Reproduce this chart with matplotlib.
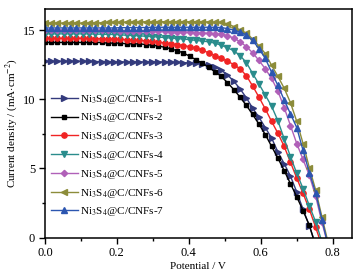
import matplotlib
matplotlib.use("Agg")
import matplotlib.pyplot as plt
from matplotlib.ticker import MultipleLocator

plt.rcParams['font.family'] = ['Liberation Serif', 'DejaVu Serif']
plt.rcParams['mathtext.fontset'] = 'stix'

# potential grid (V)
V = [0.0, 0.0175, 0.035, 0.0525, 0.07, 0.0875, 0.105, 0.1225, 0.14, 0.1575,
     0.175, 0.1925, 0.21, 0.2275, 0.245, 0.2625, 0.28, 0.2975, 0.315, 0.3325,
     0.35, 0.3675, 0.385, 0.4025, 0.42, 0.4375, 0.455, 0.4725, 0.49, 0.5075,
     0.525, 0.5425, 0.56, 0.5775, 0.595, 0.6125, 0.63, 0.6475, 0.665, 0.6825,
     0.70, 0.7175, 0.735, 0.7525, 0.77, 0.7875]

# current density (mA/cm2) for each sample
j1 = [12.75, 12.75, 12.75, 12.75, 12.75, 12.75, 12.75, 12.75, 12.72, 12.72,
      12.72, 12.7, 12.7, 12.7, 12.7, 12.7, 12.7, 12.7, 12.7, 12.7,
      12.68, 12.68, 12.65, 12.62, 12.6, 12.55, 12.48, 12.35, 12.1, 11.75,
      11.3, 10.75, 10.1, 9.35, 8.7, 7.95, 7.2, 6.2, 5.35, 4.45,
      3.3, 2.05, 0.85, -0.5]
j2 = [14.1, 14.1, 14.1, 14.1, 14.1, 14.1, 14.1, 14.1, 14.1, 14.1,
      14.05, 14.05, 14.05, 14.0, 14.0, 14.0, 13.95, 13.9, 13.85, 13.75,
      13.65, 13.5, 13.35, 13.1, 12.85, 12.6, 12.3, 12.0, 11.65, 11.2,
      10.7, 10.15, 9.55, 8.9, 8.2, 7.45, 6.6, 5.75, 4.85, 3.9,
      2.95, 1.95, 0.9, -0.6]
j3 = [14.4, 14.4, 14.4, 14.4, 14.4, 14.4, 14.4, 14.4, 14.38, 14.38,
      14.35, 14.35, 14.33, 14.3, 14.28, 14.25, 14.22, 14.18, 14.12, 14.07,
      14.0, 13.95, 13.88, 13.8, 13.7, 13.55, 13.35, 13.15, 12.95, 12.75,
      12.5, 12.2, 11.7, 10.95, 10.15, 9.3, 8.4, 7.55, 6.6, 5.45,
      4.3, 3.2, 2.05, 0.75, -0.6]
j4 = [14.72, 14.72, 14.72, 14.72, 14.72, 14.72, 14.72, 14.72, 14.7, 14.7,
      14.68, 14.68, 14.65, 14.62, 14.6, 14.58, 14.55, 14.52, 14.5, 14.45,
      14.42, 14.38, 14.35, 14.3, 14.25, 14.2, 14.15, 14.05, 13.9, 13.72,
      13.5, 13.15, 12.65, 11.85, 11.1, 10.3, 9.5, 8.45, 7.15, 5.85,
      4.65, 3.55, 2.3, 1.15, -0.3]
j5 = [15.0, 15.0, 15.0, 15.0, 15.0, 15.0, 15.0, 15.0, 14.98, 14.98,
      14.97, 14.97, 14.96, 14.95, 14.95, 14.95, 14.93, 14.92, 14.9, 14.9,
      14.88, 14.87, 14.85, 14.83, 14.8, 14.78, 14.75, 14.72, 14.68, 14.6,
      14.42, 14.15, 13.8, 13.35, 12.8, 12.2, 11.5, 10.6, 9.4, 8.1,
      6.8, 5.65, 4.5, 3.0, 1.1, -0.6]
j6 = [15.5, 15.5, 15.5, 15.5, 15.5, 15.5, 15.5, 15.5, 15.52, 15.52,
      15.55, 15.55, 15.55, 15.58, 15.58, 15.58, 15.6, 15.6, 15.6, 15.6,
      15.6, 15.6, 15.6, 15.6, 15.6, 15.6, 15.58, 15.55, 15.55, 15.45,
      15.25, 15.0, 14.78, 14.35, 13.85, 13.3, 12.45, 11.65, 10.8, 9.75,
      8.4, 6.8, 5.05, 3.45, 1.5, -0.4]
j7 = [15.15, 15.15, 15.15, 15.15, 15.15, 15.15, 15.15, 15.15, 15.15, 15.15,
      15.15, 15.15, 15.17, 15.17, 15.18, 15.18, 15.18, 15.2, 15.2, 15.2,
      15.2, 15.2, 15.2, 15.2, 15.2, 15.2, 15.2, 15.2, 15.18, 15.1,
      15.0, 14.85, 14.65, 14.25, 13.65, 12.95, 11.95, 11.0, 9.95, 8.95,
      7.95, 6.3, 4.7, 3.25, 1.3, -0.6]

series = [j1, j2, j3, j4, j5, j6, j7]
labels = ['Ni$_3$S$_4$@C/CNFs-%d' % k for k in range(1, 8)]
colors = ['#333a7c', '#000000', '#f02424', '#2a8c8c', '#b060b8', '#8c8c3a', '#2c56b0']
markers = ['>', 's', 'o', 'v', 'D', '<', '^']
msizes = [3.8, 3.4, 3.8, 3.8, 3.2, 3.8, 3.8]

fig = plt.figure(figsize=(3.59, 2.8), dpi=100)
ax = fig.add_axes([0.125, 0.151, 0.855, 0.816])

for j, lab, c, m, ms in zip(series, labels, colors, markers, msizes):
    ax.plot(V[:len(j)], j, color=c, marker=m, markersize=ms, lw=1.0, label=lab)

ax.set_xlim(0, 0.853)
ax.set_ylim(0, 16.5)
ax.xaxis.set_major_locator(MultipleLocator(0.2))
ax.xaxis.set_minor_locator(MultipleLocator(0.1))
ax.yaxis.set_major_locator(MultipleLocator(5))
ax.yaxis.set_minor_locator(MultipleLocator(2.5))
ax.xaxis.set_major_formatter(matplotlib.ticker.FormatStrFormatter('%.1f'))
ax.tick_params(which='both', direction='out', top=False, right=False, labelsize=9, width=1.0)
ax.tick_params(which='major', length=4, pad=3)
ax.tick_params(which='minor', length=2.5)
for s in ax.spines.values():
    s.set_linewidth(1.1)

ax.set_xlabel('Potential / V', fontsize=8, labelpad=2)
ax.set_ylabel('Current density / (mA$\\cdot$cm$^{-2}$)', fontsize=8, labelpad=2)

ax.legend(loc='upper left', bbox_to_anchor=(0.02, 0.635), frameon=False, fontsize=8,
          handlelength=2.4, handletextpad=0.25, labelspacing=0.52, borderpad=0,
          borderaxespad=0)

fig.savefig('out.png', dpi=100)
